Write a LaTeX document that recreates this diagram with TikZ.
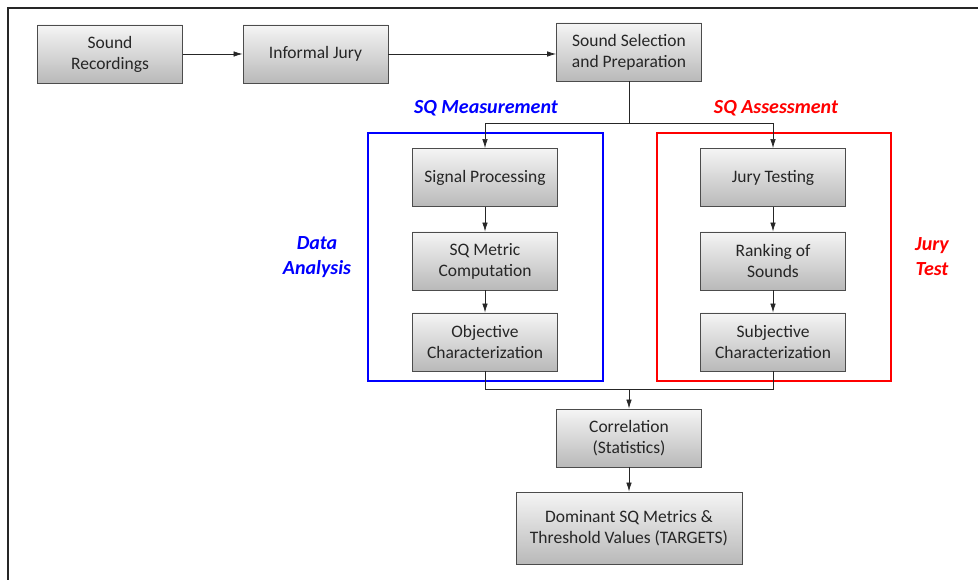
\documentclass[tikz,border=0pt]{standalone}
\usepackage{fontspec}
\setmainfont{Carlito}
\usetikzlibrary{arrows.meta,shadings}
\begin{document}
\begin{tikzpicture}[x=1pt,y=-1pt,
  box/.style={draw=black!70, line width=0.9pt, top color=gray!8, bottom color=gray!55,
    minimum width=145pt, minimum height=58pt, align=center, inner sep=2pt,
    font=\fontsize{17.5}{21}\selectfont, text=black!85},
  arr/.style={-{Latex[length=9pt,width=5.5pt]}, line width=0.7pt, draw=black!85},
  conn/.style={line width=0.7pt, draw=black!85},
  lab/.style={font=\fontsize{20}{25}\selectfont\bfseries\itshape, align=center}]
\useasboundingbox (0,0) rectangle (978,580);
\draw[line width=1.6pt, black!85] (8,580) -- (8,8) -- (978,8);

\node[box] (rec) at (110,54) {Sound\\Recordings};
\node[box] (inf) at (315.5,54) {Informal Jury};
\node[box] (ssp) at (629,52) {Sound Selection\\and Preparation};

\draw[blue, line width=2.8pt] (368,133) rectangle (603,381);
\draw[red, line width=2.8pt] (657,133) rectangle (891,381);

\node[box] (sp) at (485,177.5) {Signal Processing};
\node[box] (sqm) at (485,261) {SQ Metric\\Computation};
\node[box] (oc) at (485,342) {Objective\\Characterization};

\node[box] (jt) at (773,177.5) {Jury Testing};
\node[box] (rk) at (773,261) {Ranking of\\Sounds};
\node[box] (sc) at (773,342) {Subjective\\Characterization};

\node[box] (corr) at (629,438) {Correlation\\(Statistics)};
\node[box, minimum width=226pt, minimum height=72pt] (dom) at (629,528) {Dominant SQ Metrics \&\\Threshold Values (TARGETS)};

\node[lab, text=blue] (meas) at (486,108) {SQ Measurement};
\node[lab, text=red] (assess) at (776,108) {SQ Assessment};
\node[lab, text=blue] (da) at (317,257) {Data\\Analysis};
\node[lab, text=red] (jtl) at (932,257) {Jury\\Test};

\coordinate (split) at (629,123);
\coordinate (join) at (629,389);

\draw[arr] (rec) -- (inf);
\draw[arr] (inf.east) -- (ssp.west |- inf.east);
\draw[conn] (ssp.south) -- (split);
\draw[arr] (split) -| (sp.north);
\draw[arr] (split) -| (jt.north);
\draw[arr] (sp) -- (sqm);
\draw[arr] (sqm) -- (oc);
\draw[arr] (jt) -- (rk);
\draw[arr] (rk) -- (sc);
\draw[conn] (oc.south) |- (join);
\draw[conn] (sc.south) |- (join);
\draw[arr] (join) -- (corr.north);
\draw[arr] (corr) -- (dom);
\end{tikzpicture}
\end{document}
